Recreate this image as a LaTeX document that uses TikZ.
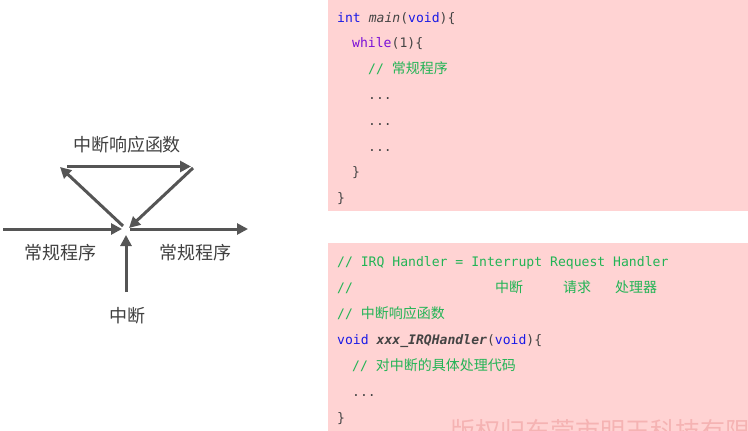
\documentclass[tikz,border=0pt]{standalone}
\usepackage{fontspec}
\setmainfont{DejaVu Sans}
\setmonofont{DejaVu Sans Mono}
\newfontfamily\cjk{Noto Sans CJK SC}
\usetikzlibrary{arrows.meta}
\definecolor{boxpink}{HTML}{FFD3D3}
\definecolor{kwblue}{HTML}{1A1AE6}
\definecolor{kwpurple}{HTML}{7A10D8}
\definecolor{cmgreen}{HTML}{22B455}
\definecolor{codegray}{HTML}{444444}
\definecolor{arrowgray}{HTML}{555555}
\definecolor{labelgray}{HTML}{404040}
\definecolor{wmpink}{HTML}{F5B3B3}
\tikzset{
  flow/.style={draw=arrowgray, line width=3pt, -{Triangle[length=11pt,width=11pt]}},
  lbl/.style={text=labelgray, font=\cjk\fontsize{18}{20}\selectfont, inner sep=0pt},
  code/.style={anchor=base west, inner sep=0pt, text=codegray, font=\ttfamily\fontsize{13.1}{15}\selectfont},
  codebox/.style={fill=boxpink, draw=none},
}
\newcommand{\kw}[1]{\textcolor{kwblue}{#1}}
\newcommand{\cm}[1]{\textcolor{cmgreen}{#1}}
\newcommand{\cz}[1]{{\cjk\fontsize{14}{16}\selectfont #1}}
\begin{document}
\begin{tikzpicture}[x=1pt,y=-1pt]
\useasboundingbox (0,0) rectangle (748,431);
\begin{scope}
\clip (0,0) rectangle (748,431);
% code boxes
\fill[codebox] (328,0) rectangle (748,211);
\fill[codebox] (328,243) rectangle (748,431);
% watermark (cut off by the bottom edge, as in the reference)
\node[anchor=base west, inner sep=0pt, text=wmpink, font=\cjk\fontsize{25}{27}\selectfont] (wm) at (450,440) {版权归东莞市明玉科技有限};
\end{scope}

% box 1 code
\node[code] (c1) at (337,22) {\kw{int} \textit{main}(\kw{void})\{};
\node[code] (c2) at (352,47.5) {\textcolor{kwpurple}{while}(1)\{};
\node[code] (c3) at (368,73) {\cm{// \cz{常规程序}}};
\node[code] (c4) at (368,99) {...};
\node[code] (c5) at (368,125) {...};
\node[code] (c6) at (368,151) {...};
\node[code] (c7) at (352,176.5) {\}};
\node[code] (c8) at (337,202) {\}};

% box 2 code
\node[code] (d1) at (337,266.5) {\cm{// IRQ Handler = Interrupt Request Handler}};
\node[code] (d2) at (337,292.5) {\cm{//}};
\node[code] (d2a) at (495,292.5) {\cm{\cz{中断}}};
\node[code] (d2b) at (563,292.5) {\cm{\cz{请求}}};
\node[code] (d2c) at (615,292.5) {\cm{\cz{处理器}}};
\node[code] (d3) at (337,318.5) {\cm{// \cz{中断响应函数}}};
\node[code] (d4) at (337,344.5) {\kw{void} \textbf{\textit{xxx\_IRQHandler}}(\kw{void})\{};
\node[code] (d5) at (352,370.5) {\cm{// \cz{对中断的具体处理代码}}};
\node[code] (d6) at (352,396) {...};
\node[code] (d7) at (337,422) {\}};

% left diagram labels
\node[lbl] (resp) at (127,145) {中断响应函数};
\node[lbl] (progL) at (60,253) {常规程序};
\node[lbl] (progR) at (195,253) {常规程序};
\node[lbl] (irq) at (127,316) {中断};

% arrow endpoints
\coordinate (inStart) at (3,229);
\coordinate (inEnd) at (122,229);
\coordinate (outStart) at (130,229);
\coordinate (outEnd) at (248,229);
\coordinate (irqStart) at (126,292);
\coordinate (irqEnd) at (126,235);
\coordinate (upStart) at (123,226);
\coordinate (upEnd) at (60,167);
\coordinate (topStart) at (67,166.5);
\coordinate (topEnd) at (191,166.5);
\coordinate (downStart) at (193,168);
\coordinate (downEnd) at (129,228);

\draw[flow] (inStart) -- (inEnd);
\draw[flow] (outStart) -- (outEnd);
\draw[flow] (irqStart) -- (irqEnd);
\draw[flow] (upStart) -- (upEnd);
\draw[flow] (topStart) -- (topEnd);
\draw[flow] (downStart) -- (downEnd);
\end{tikzpicture}
\end{document}
